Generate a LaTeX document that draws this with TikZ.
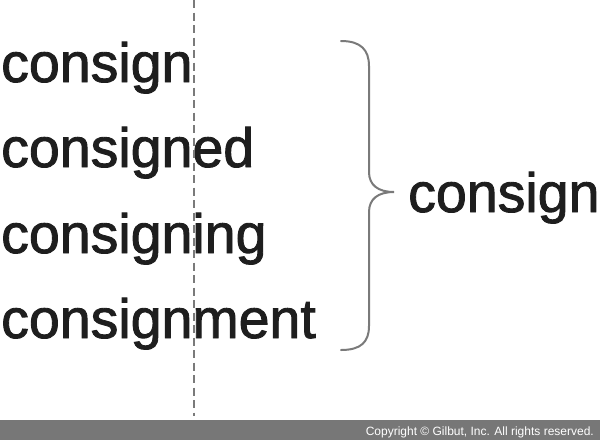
\documentclass[tikz,border=0pt]{standalone}
\usepackage{fontspec}
\setmainfont{Liberation Sans}
\newfontfamily\wordfont[RawFeature={embolden=1.6}]{Liberation Sans}
\definecolor{ink}{HTML}{1E1E1E}
\definecolor{linegray}{HTML}{7A7A7A}
\definecolor{bargray}{HTML}{777777}
\begin{document}
\begin{tikzpicture}[x=1pt,y=-1pt,
  word/.style={anchor=base west,inner sep=0pt,text=ink,font=\wordfont\fontsize{55.5}{60}\selectfont},
  guide/.style={draw=linegray,line width=2pt,dash pattern=on 8pt off 4.5pt},
  bracestroke/.style={draw=linegray,line width=2pt,line cap=round}]
\useasboundingbox (0,0) rectangle (600,440);
\fill[bargray] (0,420) rectangle (600,440);
\node[anchor=base east,inner sep=0pt,text=white,font=\fontsize{12}{14}\selectfont] (copy) at (594,435) {Copyright \textcopyright\ Gilbut, Inc. All rights reserved.};
\node[word] (w1) at (1,82) {consign};
\node[word] (w2) at (1,167) {consigned};
\node[word] (w3) at (1,253) {consigning};
\node[word] (w4) at (1,338) {consignment};
\node[word] (r) at (408,212) {consign};
\coordinate (gtop) at (194,0);
\coordinate (gbot) at (194,416);
\draw[guide] (gtop) -- (gbot);
\coordinate (btop) at (341,41);
\coordinate (btip) at (394,192);
\coordinate (bbot) at (341,350);
\draw[bracestroke] (btop) .. controls (361,41) and (369,50) .. (369,66)
  -- (369,172) .. controls (369,185) and (378,192) .. (btip)
  .. controls (378,192) and (369,199) .. (369,212)
  -- (369,326) .. controls (369,342) and (361,350) .. (bbot);
\end{tikzpicture}
\end{document}
